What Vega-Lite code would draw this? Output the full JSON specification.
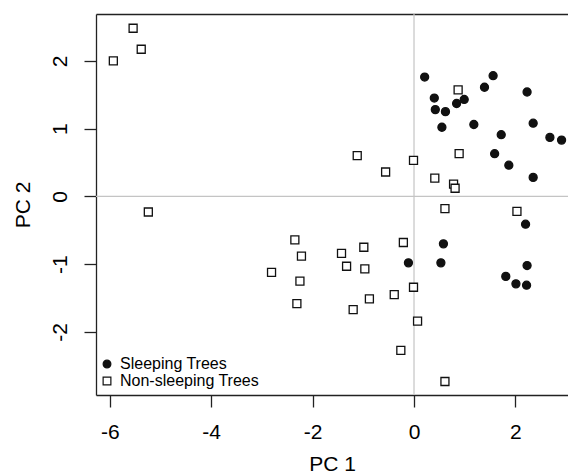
{
  "$schema": "https://vega.github.io/schema/vega-lite/v6.json",
  "width": 472,
  "height": 381,
  "autosize": {"type": "none"},
  "padding": {"left": 96, "top": 14, "right": 0, "bottom": 79},
  "background": "white",
  "config": {
    "view": {"stroke": null},
    "font": "Liberation Sans",
    "axis": {
      "labelFont": "Liberation Sans",
      "titleFont": "Liberation Sans",
      "labelFontSize": 21,
      "titleFontSize": 21,
      "titleFontWeight": "normal",
      "labelColor": "#000",
      "titleColor": "#000",
      "tickSize": 12,
      "tickColor": "#222",
      "domainColor": "#222",
      "domainWidth": 1.3,
      "tickWidth": 1.3,
      "grid": false
    },
    "legend": {
      "orient": "none",
      "legendX": 3,
      "legendY": 342,
      "title": null,
      "labelFontSize": 16,
      "labelFont": "Liberation Sans",
      "labelColor": "#000",
      "symbolSize": 60,
      "symbolStrokeWidth": 1.2,
      "rowPadding": 1,
      "labelOffset": 5,
      "padding": 0
    }
  },
  "datasets": {
    "vline": [{"x": 0}],
    "hline": [{"y": 0}],
    "pts": [
      {"type": "Sleeping Trees", "pc1": 0.21, "pc2": 1.76},
      {"type": "Sleeping Trees", "pc1": 1.56, "pc2": 1.78},
      {"type": "Sleeping Trees", "pc1": 1.39, "pc2": 1.61},
      {"type": "Sleeping Trees", "pc1": 2.23, "pc2": 1.54},
      {"type": "Sleeping Trees", "pc1": 0.40, "pc2": 1.45},
      {"type": "Sleeping Trees", "pc1": 0.99, "pc2": 1.43},
      {"type": "Sleeping Trees", "pc1": 0.84, "pc2": 1.37},
      {"type": "Sleeping Trees", "pc1": 0.42, "pc2": 1.28},
      {"type": "Sleeping Trees", "pc1": 0.62, "pc2": 1.25},
      {"type": "Sleeping Trees", "pc1": 1.18, "pc2": 1.06},
      {"type": "Sleeping Trees", "pc1": 2.35, "pc2": 1.08},
      {"type": "Sleeping Trees", "pc1": 0.55, "pc2": 1.02},
      {"type": "Sleeping Trees", "pc1": 1.72, "pc2": 0.91},
      {"type": "Sleeping Trees", "pc1": 2.68, "pc2": 0.87},
      {"type": "Sleeping Trees", "pc1": 2.91, "pc2": 0.83},
      {"type": "Sleeping Trees", "pc1": 1.59, "pc2": 0.63},
      {"type": "Sleeping Trees", "pc1": 1.87, "pc2": 0.46},
      {"type": "Sleeping Trees", "pc1": 2.35, "pc2": 0.28},
      {"type": "Sleeping Trees", "pc1": 2.20, "pc2": -0.41},
      {"type": "Sleeping Trees", "pc1": 0.58, "pc2": -0.70},
      {"type": "Sleeping Trees", "pc1": -0.11, "pc2": -0.98},
      {"type": "Sleeping Trees", "pc1": 0.53, "pc2": -0.98},
      {"type": "Sleeping Trees", "pc1": 2.23, "pc2": -1.02},
      {"type": "Sleeping Trees", "pc1": 1.81, "pc2": -1.18},
      {"type": "Sleeping Trees", "pc1": 2.01, "pc2": -1.29},
      {"type": "Sleeping Trees", "pc1": 2.22, "pc2": -1.31},
      {"type": "Non-sleeping Trees", "pc1": -5.54, "pc2": 2.48},
      {"type": "Non-sleeping Trees", "pc1": -5.38, "pc2": 2.17},
      {"type": "Non-sleeping Trees", "pc1": -5.93, "pc2": 2.00},
      {"type": "Non-sleeping Trees", "pc1": -5.24, "pc2": -0.23},
      {"type": "Non-sleeping Trees", "pc1": 0.87, "pc2": 1.57},
      {"type": "Non-sleeping Trees", "pc1": -1.12, "pc2": 0.60},
      {"type": "Non-sleeping Trees", "pc1": -0.01, "pc2": 0.53},
      {"type": "Non-sleeping Trees", "pc1": -0.56, "pc2": 0.36},
      {"type": "Non-sleeping Trees", "pc1": 0.89, "pc2": 0.63},
      {"type": "Non-sleeping Trees", "pc1": 0.41, "pc2": 0.27},
      {"type": "Non-sleeping Trees", "pc1": 0.78, "pc2": 0.18},
      {"type": "Non-sleeping Trees", "pc1": 0.81, "pc2": 0.12},
      {"type": "Non-sleeping Trees", "pc1": 0.61, "pc2": -0.18},
      {"type": "Non-sleeping Trees", "pc1": 2.03, "pc2": -0.22},
      {"type": "Non-sleeping Trees", "pc1": -0.21, "pc2": -0.68},
      {"type": "Non-sleeping Trees", "pc1": -0.99, "pc2": -0.75},
      {"type": "Non-sleeping Trees", "pc1": -1.43, "pc2": -0.84},
      {"type": "Non-sleeping Trees", "pc1": -1.33, "pc2": -1.03},
      {"type": "Non-sleeping Trees", "pc1": -0.97, "pc2": -1.07},
      {"type": "Non-sleeping Trees", "pc1": -0.01, "pc2": -1.34},
      {"type": "Non-sleeping Trees", "pc1": -0.39, "pc2": -1.45},
      {"type": "Non-sleeping Trees", "pc1": -0.88, "pc2": -1.51},
      {"type": "Non-sleeping Trees", "pc1": -1.20, "pc2": -1.67},
      {"type": "Non-sleeping Trees", "pc1": 0.07, "pc2": -1.84},
      {"type": "Non-sleeping Trees", "pc1": -0.26, "pc2": -2.27},
      {"type": "Non-sleeping Trees", "pc1": 0.61, "pc2": -2.73},
      {"type": "Non-sleeping Trees", "pc1": -2.35, "pc2": -0.64},
      {"type": "Non-sleeping Trees", "pc1": -2.22, "pc2": -0.88},
      {"type": "Non-sleeping Trees", "pc1": -2.81, "pc2": -1.12},
      {"type": "Non-sleeping Trees", "pc1": -2.25, "pc2": -1.25},
      {"type": "Non-sleeping Trees", "pc1": -2.31, "pc2": -1.58}
    ]
  },
  "layer": [
    {
      "data": {"name": "vline"},
      "mark": {"type": "rule", "color": "#c4c4c4", "strokeWidth": 1.2},
      "encoding": {
        "x": {
          "field": "x", "type": "quantitative",
          "scale": {"domain": [-6.272, 3.037], "nice": false, "zero": false},
          "axis": {"orient": "top", "labels": false, "ticks": false, "title": null, "grid": false, "domain": true}
        }
      }
    },
    {
      "data": {"name": "hline"},
      "mark": {"type": "rule", "color": "#c4c4c4", "strokeWidth": 1.2},
      "encoding": {
        "y": {
          "field": "y", "type": "quantitative",
          "scale": {"domain": [-2.929, 2.69], "nice": false, "zero": false},
          "axis": null
        }
      }
    },
    {
      "data": {"name": "pts"},
      "mark": {"type": "point", "filled": true, "strokeWidth": 1.3, "opacity": 1, "size": 64},
      "encoding": {
        "x": {
          "field": "pc1", "type": "quantitative",
          "scale": {"domain": [-6.272, 3.037], "nice": false, "zero": false},
          "axis": {"orient": "bottom", "values": [-6, -4, -2, 0, 2], "labelExpr": "datum.value + ''", "labelPadding": 14, "title": "PC 1", "titlePadding": 11}
        },
        "y": {
          "field": "pc2", "type": "quantitative",
          "scale": {"domain": [-2.929, 2.69], "nice": false, "zero": false},
          "axis": {"orient": "left", "values": [-2, -1, 0, 1, 2], "labelExpr": "datum.value + ''", "labelAngle": -90, "labelAlign": "center", "labelBaseline": "bottom", "labelPadding": 14, "title": "PC 2", "titlePadding": 16}
        },
        "shape": {
          "field": "type", "type": "nominal",
          "scale": {"domain": ["Sleeping Trees", "Non-sleeping Trees"], "range": ["circle", "square"]},
          "legend": {"title": null}
        },
        "fill": {
          "field": "type", "type": "nominal",
          "scale": {"domain": ["Sleeping Trees", "Non-sleeping Trees"], "range": ["#111111", "#ffffff"]},
          "legend": {"title": null}
        },
        "stroke": {
          "field": "type", "type": "nominal",
          "scale": {"domain": ["Sleeping Trees", "Non-sleeping Trees"], "range": ["#111111", "#111111"]},
          "legend": {"title": null}
        }
      }
    }
  ],
  "resolve": {"axis": {"x": "independent", "y": "independent"}}
}
